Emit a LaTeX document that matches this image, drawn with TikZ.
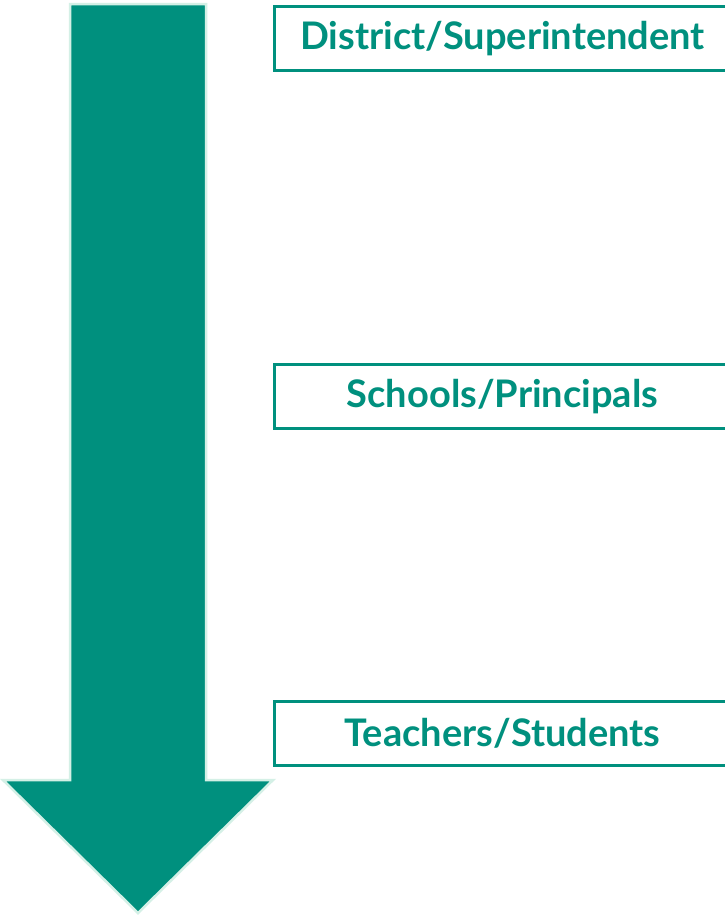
\documentclass[tikz,border=0pt]{standalone}
\usepackage{fontspec}
\setmainfont{Lato}
\definecolor{teal1}{RGB}{0,144,126}
\definecolor{mint}{RGB}{212,240,230}
\begin{document}
\begin{tikzpicture}[x=1pt,y=-1pt,
  levelbox/.style={draw=teal1, line width=3pt, fill=white, minimum width=456pt, minimum height=64pt, anchor=west, inner sep=0pt, font=\fontsize{38}{40}\selectfont\bfseries, text=teal1}]
\useasboundingbox (0,0) rectangle (725,916);
\fill[white] (0,0) rectangle (725,916);
\draw[mint, line width=2.5pt, fill=teal1, line join=miter]
  (70,4) -- (206,4) -- (206,780) -- (273,780) -- (138,913) -- (3,780) -- (70,780) -- cycle;
\node[levelbox] (district) at (273,38.5) {District/Superintendent};
\node[levelbox] (schools) at (273,396.5) {Schools/Principals};
\node[levelbox] (teachers) at (273,733.5) {Teachers/Students};
\end{tikzpicture}
\end{document}
